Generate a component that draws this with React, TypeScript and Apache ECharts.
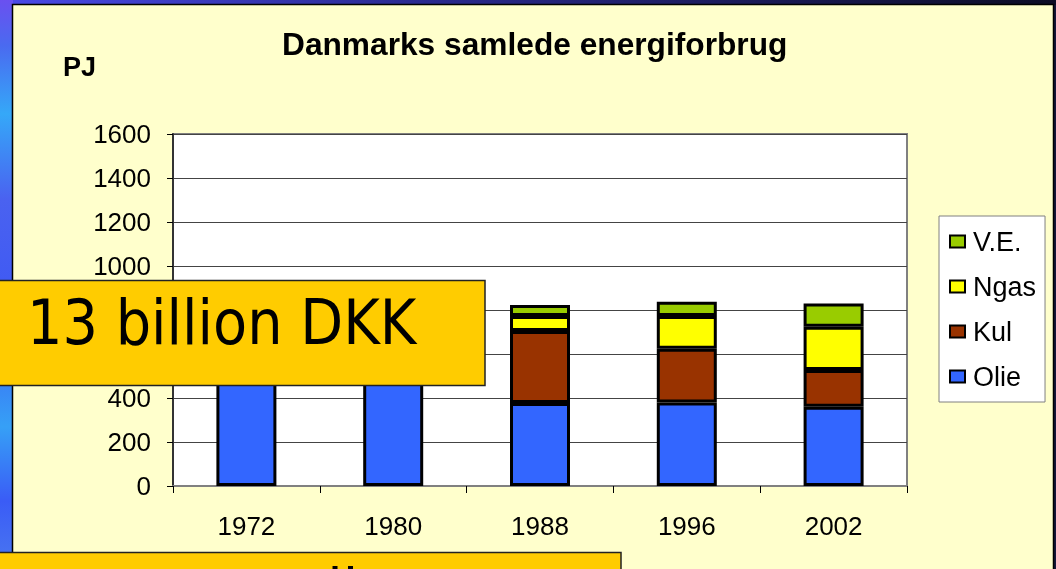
import React, { useEffect, useRef } from "react";
import * as echarts from "echarts";

const years = ["1972", "1980", "1988", "1996", "2002"];
const olie = [748, 545, 377, 379, 360];
const kul = [62, 265, 328, 245, 167];
const ngas = [0, 0, 68, 149, 197];
const ve = [12, 21, 50, 65, 106];
const legendOrder = ["V.E.", "Ngas", "Kul", "Olie"];
const hiddenTicks = [600, 800];
const titleText = "Danmarks samlede energiforbrug";
const unitText = "PJ";
const calloutText = "13 billion DKK";
const bottomText = "og tallene";

const FONT = "Liberation Sans, Arial, sans-serif";
const BOX_FONT = "DejaVu Sans Condensed, DejaVu Sans, sans-serif";

export default function App() {
  const ref = useRef<HTMLDivElement>(null);
  useEffect(() => {
    if (!ref.current) return;
    const chart = echarts.init(ref.current, undefined, { renderer: "svg" });
    const mk = (name: string, data: number[], color: string) => ({
      name,
      type: "bar",
      stack: "total",
      data,
      barWidth: 60,
      itemStyle: { color, borderColor: "#000", borderWidth: 3 },
      emphasis: { disabled: true },
    });
    chart.setOption({
      animation: false,
      backgroundColor: "transparent",
      title: {
        text: titleText,
        left: 277,
        top: 23,
        textStyle: { fontFamily: FONT, fontSize: 31.7, fontWeight: "bold", color: "#000" },
      },
      legend: {
        data: legendOrder,
        orient: "vertical",
        left: 939,
        top: 216,
        padding: [12, 9, 12, 10],
        backgroundColor: "#fff",
        borderColor: "#808080",
        borderWidth: 1,
        borderRadius: 0,
        itemWidth: 15,
        itemHeight: 12,
        itemGap: 18,
        icon: "rect",
        itemStyle: { borderColor: "#000", borderWidth: 2 },
        textStyle: { fontFamily: FONT, fontSize: 27, color: "#000", padding: [0, 0, 0, 3] },
      },
      grid: {
        left: 173,
        right: 149,
        top: 134,
        bottom: 83,
        show: true,
        backgroundColor: "#fff",
        borderColor: "#808080",
        borderWidth: 2,
      },
      xAxis: {
        type: "category",
        data: years,
        axisLine: { show: true, lineStyle: { color: "#808080", width: 2 } },
        axisTick: { show: true, alignWithLabel: false, length: 7, lineStyle: { color: "#000", width: 1 } },
        axisLabel: { fontFamily: FONT, fontSize: 26, color: "#000", margin: 27 },
      },
      yAxis: {
        type: "value",
        min: 0,
        max: 1600,
        interval: 200,
        axisLine: { show: true, lineStyle: { color: "#333", width: 2 } },
        axisTick: { show: true, length: 6, lineStyle: { color: "#000", width: 1 } },
        axisLabel: {
          fontFamily: FONT,
          fontSize: 26,
          color: "#000",
          margin: 22,
          formatter: (v: number) => (hiddenTicks.includes(v) ? "" : String(v)),
        },
        splitLine: { show: true, lineStyle: { color: "#444", width: 1 } },
      },
      series: [
        mk("Olie", olie, "#3366FF"),
        mk("Kul", kul, "#993300"),
        mk("Ngas", ngas, "#FFFF00"),
        mk("V.E.", ve, "#99CC00"),
      ],
      graphic: [
        {
          type: "rect",
          z: -100,
          silent: true,
          shape: { x: 0, y: 0, width: 1056, height: 569 },
          style: { fill: "#15163a" },
        },
        {
          type: "rect",
          z: -99,
          silent: true,
          shape: { x: 0, y: 0, width: 1056, height: 5 },
          style: {
            fill: new echarts.graphic.LinearGradient(0, 0, 1, 0, [
              { offset: 0, color: "#4a4ae8" },
              { offset: 0.4, color: "#2a2a90" },
              { offset: 1, color: "#0c0c24" },
            ]),
          },
        },
        {
          type: "rect",
          z: -99,
          silent: true,
          shape: { x: 0, y: 0, width: 13, height: 569 },
          style: {
            fill: new echarts.graphic.LinearGradient(0, 0, 0, 1, [
              { offset: 0, color: "#6a50f0" },
              { offset: 0.08, color: "#4a6af0" },
              { offset: 0.2, color: "#35a8f8" },
              { offset: 0.35, color: "#4a62f0" },
              { offset: 0.55, color: "#3d58f4" },
              { offset: 0.75, color: "#36a0f6" },
              { offset: 0.88, color: "#3a5cf6" },
              { offset: 1, color: "#4a78f0" },
            ]),
          },
        },
        {
          type: "rect",
          z: -98,
          silent: true,
          shape: { x: 12.5, y: 4.5, width: 1041, height: 580 },
          style: { fill: "#FFFFCC", stroke: "#000", lineWidth: 1.5 },
        },
        {
          type: "text",
          z: 10,
          silent: true,
          x: 63,
          y: 53,
          style: {
            text: unitText,
            font: "bold 27px " + FONT,
            fill: "#000",
            verticalAlign: "top",
          },
        },
        {
          type: "group",
          z: 200,
          silent: true,
          children: [
            {
              type: "rect",
              z: 200,
              shape: { x: -2, y: 280.5, width: 487, height: 105 },
              style: { fill: "#FFCC00", stroke: "#222", lineWidth: 1.5 },
            },
            {
              type: "text",
              z: 201,
              x: 27,
              y: 322,
              style: {
                text: calloutText,
                font: "62px " + BOX_FONT,
                fill: "#000",
                verticalAlign: "middle",
              },
            },
            {
              type: "rect",
              z: 200,
              shape: { x: -2, y: 552.5, width: 623, height: 60 },
              style: { fill: "#FFCC00", stroke: "#222", lineWidth: 1.5 },
            },
            {
              type: "text",
              z: 201,
              x: 184,
              y: 591,
              style: {
                text: bottomText,
                font: "62px " + BOX_FONT,
                fill: "#000",
                verticalAlign: "middle",
              },
            },
          ],
        },
      ],
    });
    return () => chart.dispose();
  }, []);
  return (
    <div
      ref={ref}
      style={{ position: "fixed", left: 0, top: 0, width: 1056, height: 569 }}
    />
  );
}
